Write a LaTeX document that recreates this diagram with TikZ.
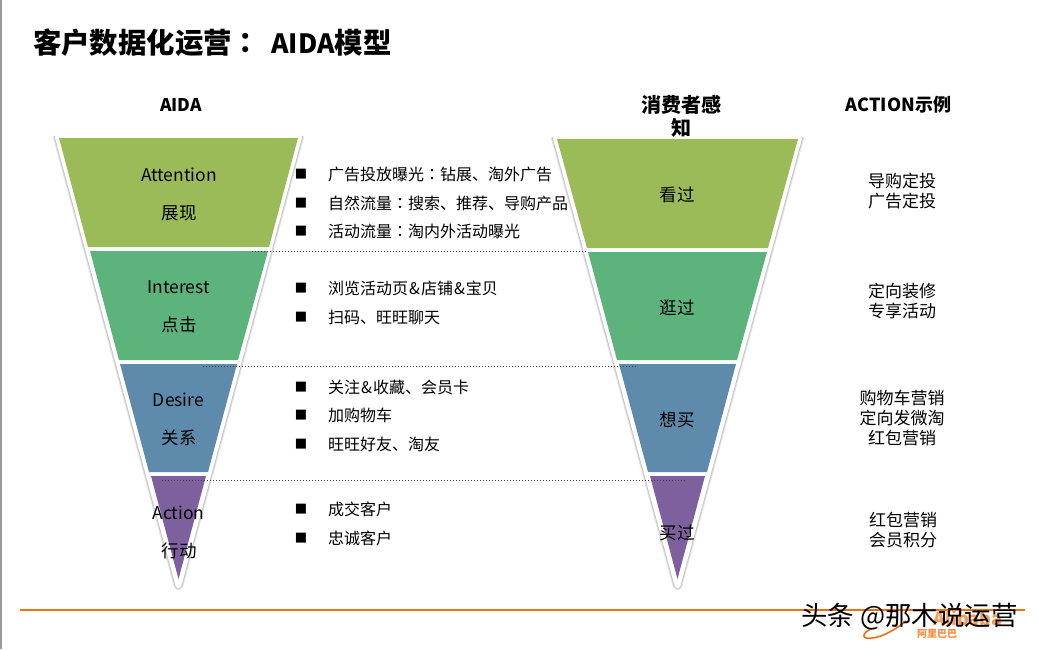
\documentclass[tikz,border=0pt]{standalone}
\usepackage{fontspec}
\setmainfont{Noto Sans CJK SC}
\newfontfamily\tcf{Noto Sans CJK TC}
\newfontfamily\dv{DejaVu Sans}
\newcommand{\ccolon}{{\tcf ：}}
\newcommand{\amp}{\kern1pt\&\kern1pt}
\definecolor{cA}{HTML}{9BBB59}
\definecolor{cI}{HTML}{5CB37C}
\definecolor{cD}{HTML}{5E8BAB}
\definecolor{cX}{HTML}{7F609E}
\definecolor{org}{HTML}{F0700F}
\tikzset{
 x=1pt,y=-1pt,
 outl/.style={draw=white,line width=6pt,fill=white,line join=round},
 shad/.style={draw=black!#1,line join=round},
 lab/.style={font=\fontsize{17.5}{17.5}\selectfont,inner sep=0pt,text=black},
 bul/.style={font=\fontsize{16}{16}\selectfont,inner sep=0pt,anchor=west,text=black},
 sq/.style={font=\dv\fontsize{13}{13}\selectfont,inner sep=0pt,text=black},
 ex/.style={font=\fontsize{17}{20}\selectfont,inner sep=0pt,align=center,text=black},
 hd/.style={font=\bfseries\fontsize{17.5}{17.5}\selectfont,inner sep=0pt,text=black},
 dot/.style={draw=black!75,line width=0.7pt,dash pattern=on 1pt off 2pt},
}
\begin{document}
\begin{tikzpicture}
\useasboundingbox (0,0) rectangle (1037,649);
\fill[black!40] (0,0) rectangle (2,649);
% left funnel
\draw[shad=10,line width=10pt] (58,137) -- (299,137) -- (178.5,585) -- cycle;
\draw[shad=22,line width=8pt] (58,137) -- (299,137) -- (178.5,585) -- cycle;
\fill[white] (40,120) rectangle (320,135.5);
\draw[outl] (58,137) -- (299,137) -- (178.5,585) -- cycle;
\fill[cA] (59,138) -- (298,138) -- (269,247) -- (88,247) -- cycle;
\fill[cI] (90,251) -- (268,251) -- (238,360) -- (119,360) -- cycle;
\fill[cD] (120,364) -- (237,364) -- (208,472) -- (149,472) -- cycle;
\fill[cX] (151,476) -- (206,476) -- (178.5,579) -- cycle;
% right funnel
\draw[shad=10,line width=10pt] (556,138) -- (799,138) -- (677.5,585) -- cycle;
\draw[shad=22,line width=8pt] (556,138) -- (799,138) -- (677.5,585) -- cycle;
\fill[white] (540,120) rectangle (820,136.5);
\draw[outl] (556,138) -- (799,138) -- (677.5,585) -- cycle;
\fill[cA] (557,139) -- (798,139) -- (768,248) -- (587,248) -- cycle;
\fill[cI] (588,252) -- (767,252) -- (737,360) -- (617,360) -- cycle;
\fill[cD] (619,364) -- (736,364) -- (707,472) -- (648,472) -- cycle;
\fill[cX] (650,476) -- (705,476) -- (677.5,579) -- cycle;
% headings
\node[font=\bfseries\fontsize{28.4}{28.4}\selectfont,inner sep=0pt,anchor=west] (title) at (33,43) {客户数据化运营\ccolon\ \kern4.5pt{\fontsize{26.5}{26.5}\selectfont AIDA}模型};
\node[hd] (h1) at (181,105) {AIDA};
\node[font=\bfseries\fontsize{20}{23}\selectfont,inner sep=0pt,align=center] (h2) at (681,116.5) {消费者感\\知};
\node[font=\bfseries\fontsize{18}{18}\selectfont,inner sep=0pt] (h3) at (898.5,105) {ACTION示例};
% dotted
\coordinate (d1a) at (252,251.5); \coordinate (d1b) at (587,251.5);
\coordinate (d2a) at (203,366); \coordinate (d2b) at (637,366);
\coordinate (d3a) at (162,480); \coordinate (d3b) at (685,480);
\draw[dot] (d1a) -- (d1b);
\draw[dot] (d2a) -- (d2b);
\draw[dot] (d3a) -- (d3b);
% funnel labels
\node[lab] (a1) at (179,175) {Attention};
\node[lab] (a2) at (179,213) {展现};
\node[lab] (i1) at (178.5,287) {Interest};
\node[lab] (i2) at (179,325) {点击};
\node[lab] (e1) at (178.5,400) {Desire};
\node[lab] (e2) at (179,437.5) {关系};
\node[lab] (c1) at (178.5,513) {Action};
\node[lab] (c2) at (179,550.5) {行动};
\node[lab] (r1) at (677,194.5) {看过};
\node[lab] (r2) at (677,307.5) {逛过};
\node[lab] (r3) at (677,419.5) {想买};
\node[lab] (r4) at (677,533) {买过};
% bullets
\foreach \n/\y/\t in {b1/174/广告投放曝光\ccolon 钻展、淘外广告,b2/203/自然流量\ccolon 搜索、推荐、导购产品,b3/231/活动流量\ccolon 淘内外活动曝光,b4/288/浏览活动页\amp 店铺\amp 宝贝,b5/317/扫码、旺旺聊天,b6/387/关注\amp 收藏、会员卡,b7/415/加购物车,b8/444/旺旺好友、淘友,b9/509/成交客户,b10/538/忠诚客户}{
 \node[bul] (\n) at (328,\y) {\t};
 \node[sq] (s\n) at (301,\y) {■};
}
% examples
\node[ex] (x1) at (902,191) {导购定投\\广告定投};
\node[ex] (x2) at (902,301) {定向装修\\专享活动};
\node[ex] (x3) at (902,418) {购物车营销\\定向发微淘\\红包营销};
\node[ex] (x4) at (903,530) {红包营销\\会员积分};
% footer
\coordinate (f1) at (20,610); \coordinate (f2) at (1025,610);
\draw[org,line width=2.5pt] (f1) -- (f2);
\node[font=\bfseries\fontsize{10}{10}\selectfont,text=org!80,inner sep=0pt] (logo) at (937,634) {阿里巴巴};
\node[font=\bfseries\itshape\fontsize{18}{18}\selectfont,text=org!70,inner sep=0pt] (logo2) at (968,618) {Alibaba};
\draw[org,line width=1.6pt] (876,628) .. controls (868,628) and (860,636) .. (866,638) .. controls (878,640) and (895,630) .. (906,621);
\node[font=\fontsize{26.5}{26.5}\selectfont,inner sep=0pt,anchor=west,text=black] (wm) at (801,617) {头条 @那木说运营};
\end{tikzpicture}
\end{document}
